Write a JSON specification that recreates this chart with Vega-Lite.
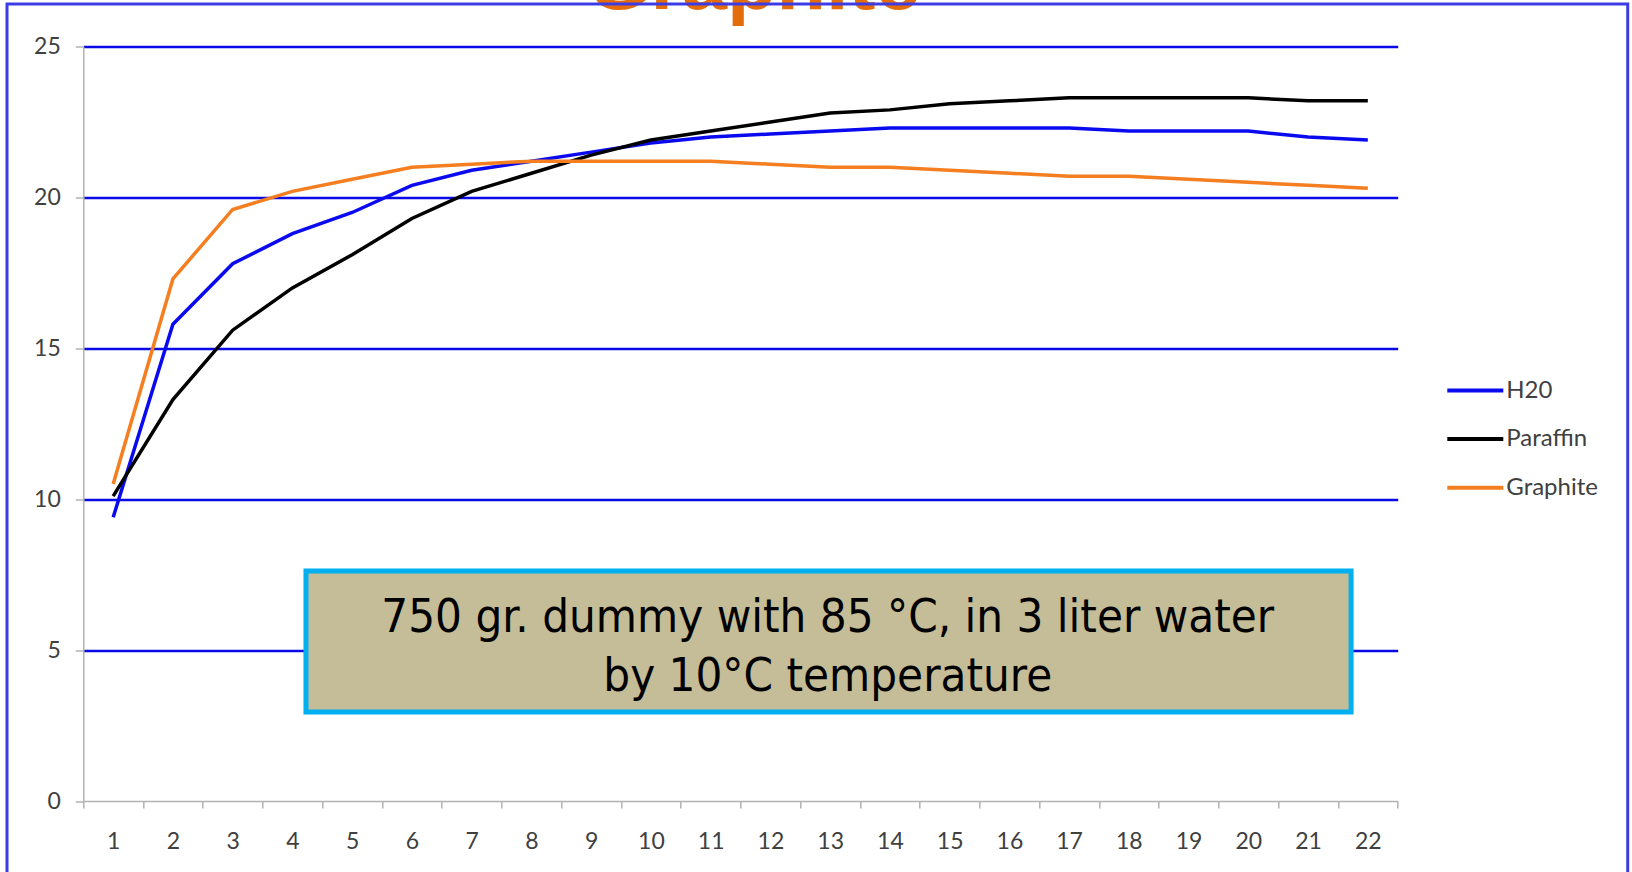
{
  "$schema": "https://vega.github.io/schema/vega-lite/v6.json",
  "autosize": {"type": "none"},
  "width": 1314.4,
  "height": 754.5,
  "padding": {"left": 83.3, "top": 46.5, "right": 234.3, "bottom": 71},
  "background": "#ffffff",
  "config": {"view": {"stroke": null}},
  "datasets": {
    "temps": [
      {"t": 1, "series": "H20", "temp": 9.4},
      {"t": 2, "series": "H20", "temp": 15.8},
      {"t": 3, "series": "H20", "temp": 17.8},
      {"t": 4, "series": "H20", "temp": 18.8},
      {"t": 5, "series": "H20", "temp": 19.5},
      {"t": 6, "series": "H20", "temp": 20.4},
      {"t": 7, "series": "H20", "temp": 20.9},
      {"t": 8, "series": "H20", "temp": 21.2},
      {"t": 9, "series": "H20", "temp": 21.5},
      {"t": 10, "series": "H20", "temp": 21.8},
      {"t": 11, "series": "H20", "temp": 22.0},
      {"t": 12, "series": "H20", "temp": 22.1},
      {"t": 13, "series": "H20", "temp": 22.2},
      {"t": 14, "series": "H20", "temp": 22.3},
      {"t": 15, "series": "H20", "temp": 22.3},
      {"t": 16, "series": "H20", "temp": 22.3},
      {"t": 17, "series": "H20", "temp": 22.3},
      {"t": 18, "series": "H20", "temp": 22.2},
      {"t": 19, "series": "H20", "temp": 22.2},
      {"t": 20, "series": "H20", "temp": 22.2},
      {"t": 21, "series": "H20", "temp": 22.0},
      {"t": 22, "series": "H20", "temp": 21.9},
      {"t": 1, "series": "Paraffin", "temp": 10.1},
      {"t": 2, "series": "Paraffin", "temp": 13.3},
      {"t": 3, "series": "Paraffin", "temp": 15.6},
      {"t": 4, "series": "Paraffin", "temp": 17.0},
      {"t": 5, "series": "Paraffin", "temp": 18.1},
      {"t": 6, "series": "Paraffin", "temp": 19.3},
      {"t": 7, "series": "Paraffin", "temp": 20.2},
      {"t": 8, "series": "Paraffin", "temp": 20.8},
      {"t": 9, "series": "Paraffin", "temp": 21.4},
      {"t": 10, "series": "Paraffin", "temp": 21.9},
      {"t": 11, "series": "Paraffin", "temp": 22.2},
      {"t": 12, "series": "Paraffin", "temp": 22.5},
      {"t": 13, "series": "Paraffin", "temp": 22.8},
      {"t": 14, "series": "Paraffin", "temp": 22.9},
      {"t": 15, "series": "Paraffin", "temp": 23.1},
      {"t": 16, "series": "Paraffin", "temp": 23.2},
      {"t": 17, "series": "Paraffin", "temp": 23.3},
      {"t": 18, "series": "Paraffin", "temp": 23.3},
      {"t": 19, "series": "Paraffin", "temp": 23.3},
      {"t": 20, "series": "Paraffin", "temp": 23.3},
      {"t": 21, "series": "Paraffin", "temp": 23.2},
      {"t": 22, "series": "Paraffin", "temp": 23.2},
      {"t": 1, "series": "Graphite", "temp": 10.5},
      {"t": 2, "series": "Graphite", "temp": 17.3},
      {"t": 3, "series": "Graphite", "temp": 19.6},
      {"t": 4, "series": "Graphite", "temp": 20.2},
      {"t": 5, "series": "Graphite", "temp": 20.6},
      {"t": 6, "series": "Graphite", "temp": 21.0},
      {"t": 7, "series": "Graphite", "temp": 21.1},
      {"t": 8, "series": "Graphite", "temp": 21.2},
      {"t": 9, "series": "Graphite", "temp": 21.2},
      {"t": 10, "series": "Graphite", "temp": 21.2},
      {"t": 11, "series": "Graphite", "temp": 21.2},
      {"t": 12, "series": "Graphite", "temp": 21.1},
      {"t": 13, "series": "Graphite", "temp": 21.0},
      {"t": 14, "series": "Graphite", "temp": 21.0},
      {"t": 15, "series": "Graphite", "temp": 20.9},
      {"t": 16, "series": "Graphite", "temp": 20.8},
      {"t": 17, "series": "Graphite", "temp": 20.7},
      {"t": 18, "series": "Graphite", "temp": 20.7},
      {"t": 19, "series": "Graphite", "temp": 20.6},
      {"t": 20, "series": "Graphite", "temp": 20.5},
      {"t": 21, "series": "Graphite", "temp": 20.4},
      {"t": 22, "series": "Graphite", "temp": 20.3}
    ],
    "note": [
      {"title": "Graphite", "line1": "750 gr.  dummy with 85 °C, in 3 liter water", "line2": "by 10°C temperature"}
    ]
  },
  "layer": [
    {
      "data": {"name": "temps"},
      "mark": {"type": "line", "strokeWidth": 3.5},
      "encoding": {
        "x": {
          "field": "t",
          "type": "quantitative",
          "scale": {"domain": [0.5, 22.5], "nice": false, "zero": false},
          "axis": {
            "title": null,
            "values": [0.5, 1.5, 2.5, 3.5, 4.5, 5.5, 6.5, 7.5, 8.5, 9.5, 10.5, 11.5, 12.5, 13.5, 14.5, 15.5, 16.5, 17.5, 18.5, 19.5, 20.5, 21.5, 22.5],
            "labelExpr": "datum.value < 22 ? format(datum.value + 0.5, 'd') : ''",
            "labelOffset": 29.9,
            "labelFlush": false,
            "labelOverlap": false,
            "grid": false,
            "domainColor": "#b3b3b3",
            "domainWidth": 1.5,
            "tickColor": "#b3b3b3",
            "tickWidth": 1.5,
            "tickSize": 7,
            "labelPadding": 22,
            "labelFont": "Lato",
            "labelFontSize": 23,
            "labelColor": "#404040"
          }
        },
        "y": {
          "field": "temp",
          "type": "quantitative",
          "scale": {"domain": [0, 25], "nice": false, "zero": false},
          "axis": {
            "title": null,
            "values": [0, 5, 10, 15, 20, 25],
            "grid": true,
            "gridColor": "#0a0ae6",
            "gridWidth": 2.5,
            "gridOpacity": {"condition": {"test": "datum.value === 0", "value": 0}, "value": 1},
            "domainColor": "#b3b3b3",
            "domainWidth": 1.5,
            "tickColor": "#b3b3b3",
            "tickWidth": 1.5,
            "tickSize": 8,
            "labelPadding": 15,
            "labelFont": "Lato",
            "labelFontSize": 23,
            "labelColor": "#404040"
          }
        },
        "color": {
          "field": "series",
          "type": "nominal",
          "scale": {"domain": ["H20", "Paraffin", "Graphite"], "range": ["#0a0af0", "#000000", "#f57e20"]},
          "legend": {
            "title": null,
            "orient": "none",
            "legendX": 1362,
            "legendY": 314,
            "padding": 0,
            "symbolType": "stroke",
            "symbolSize": 3136,
            "symbolStrokeWidth": 4,
            "labelFont": "Lato",
            "labelFontSize": 24,
            "labelColor": "#404040",
            "labelOffset": 1,
            "rowPadding": 6.6
          }
        }
      }
    },
    {
      "data": {"name": "note"},
      "mark": {"type": "text", "font": "Liberation Sans", "fontWeight": "bold", "fontSize": 81, "color": "#e46c0a", "align": "center", "baseline": "alphabetic", "clip": false},
      "encoding": {
        "text": {"field": "title"},
        "x": {"datum": 11.725, "type": "quantitative"},
        "y": {"datum": 26.24, "type": "quantitative"}
      }
    },
    {
      "data": {"name": "note"},
      "mark": {"type": "rect", "fill": null, "stroke": "#3c3ce6", "strokeWidth": 3, "clip": false},
      "encoding": {
        "x": {"datum": -0.777, "type": "quantitative"},
        "x2": {"datum": 26.35},
        "y": {"datum": 26.41, "type": "quantitative"},
        "y2": {"datum": -2.45}
      }
    },
    {
      "data": {"name": "note"},
      "mark": {"type": "rect", "fill": "#c4bd97", "stroke": "#00b0f0", "strokeWidth": 5, "clip": false},
      "encoding": {
        "x": {"datum": 4.227, "type": "quantitative"},
        "x2": {"datum": 21.72},
        "y": {"datum": 7.62, "type": "quantitative"},
        "y2": {"datum": 2.95}
      }
    },
    {
      "data": {"name": "note"},
      "mark": {"type": "text", "font": "DejaVu Sans Condensed", "fontSize": 47, "color": "#000000", "align": "center", "baseline": "middle", "lineHeight": 59, "text": ["750 gr.  dummy with 85 °C, in 3 liter water", "by 10°C temperature"]},
      "encoding": {
        "x": {"datum": 12.96, "type": "quantitative"},
        "y": {"datum": 6.06, "type": "quantitative"}
      }
    }
  ]
}
